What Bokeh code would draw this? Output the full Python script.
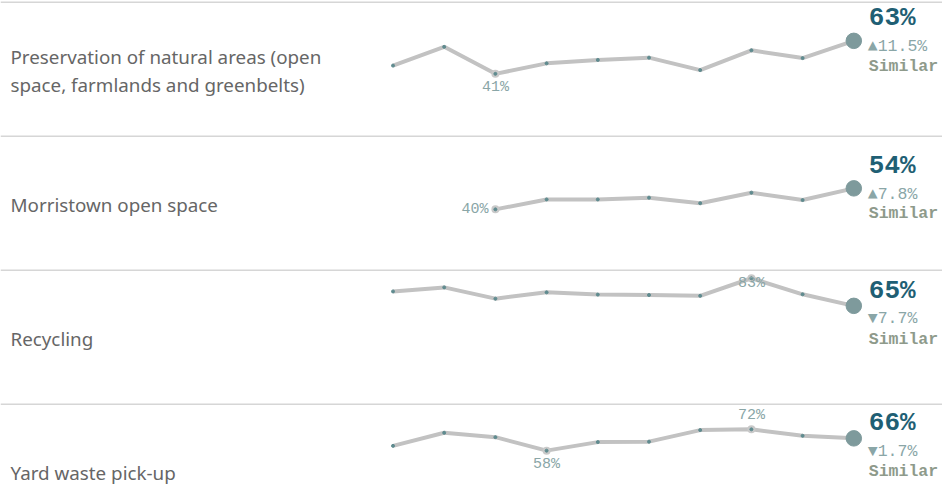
import math
from bokeh.plotting import figure
from bokeh.models import Range1d, Label, Span, ColumnDataSource
from bokeh.layouts import column
from bokeh.embed import file_html
from bokeh.resources import INLINE
from bokeh.core.properties import value

# ---------------- data ----------------
periods = list(range(10))
row_labels = [
    ["Preservation of natural areas (open", "space, farmlands and greenbelts)"],
    ["Morristown open space"],
    ["Recycling"],
    ["Yard waste pick-up"],
]
nan = float("nan")
preservation = [46.5, 59.0, 41.0, 48.0, 50.3, 51.8, 43.5, 56.7, 51.5, 63.0]
morristown = [nan, nan, 40.0, 46.6, 46.6, 47.8, 44.1, 51.1, 46.2, 54.0]
recycling = [74.6, 77.3, 69.8, 74.0, 72.5, 72.2, 71.7, 83.4, 72.7, 65.0]
yard_waste = [61.0, 69.7, 66.8, 57.8, 63.5, 63.8, 71.5, 72.0, 67.7, 66.0]
series = [preservation, morristown, recycling, yard_waste]
changes = [11.5, 7.8, -7.7, -1.7]
status = ["Similar", "Similar", "Similar", "Similar"]

# ---------------- style ----------------
W = 942
HEIGHTS = [134, 134, 134, 83]
PX = 1.5           # pixels per percentage point
Y_TOP = 89.9
X0_PX, X_STEP = 392.5, 51.2
LINE_C = "#c2c2c2"
DOT_C = "#5f8b8f"
LAST_C = "#7e9a9c"
VAL_C = "#1f5f74"
CHG_C = "#8aa6a7"
STAT_C = "#8e9a8b"
LBL_C = "#666666"
MONO = "Liberation Mono"

figs = []
for r, vals in enumerate(series):
    h = HEIGHTS[r]
    p = figure(width=W, height=h, output_backend="svg", toolbar_location=None,
               x_range=Range1d(-X0_PX / X_STEP, (W - X0_PX) / X_STEP),
               y_range=Range1d(Y_TOP - h / PX, Y_TOP),
               x_axis_location=None, y_axis_location=None,
               min_border=0, outline_line_color=None)
    p.grid.visible = False
    p.background_fill_color = "white"
    p.border_fill_color = "white"

    p.add_layout(Span(location=Y_TOP - 1.7 / PX, dimension="width",
                      line_color="#d6d6d6", line_width=1.5))

    # row label
    lines = row_labels[r]
    centre = 70.5
    for k, t in enumerate(lines):
        rel = centre + (k - (len(lines) - 1) / 2) * 28
        p.add_layout(Label(x=10, y=h - rel, x_units="screen", y_units="screen",
                           text=t, text_font="Noto Sans", text_font_size="18.8px",
                           text_color=LBL_C, text_baseline="middle", text_align="left"))

    valid = [(i, v) for i, v in zip(periods, vals) if not math.isnan(v)]
    src = ColumnDataSource(dict(x=[i for i, _ in valid], y=[v for _, v in valid]))
    p.line(periods, vals, line_color=LINE_C, line_width=4)

    last_i, last_v = valid[-1]
    vmin = min(v for _, v in valid)
    vmax = max(v for _, v in valid)
    first_i = valid[0][0]
    ext = []
    for i, v in valid:
        if i == last_i:
            continue
        if v == vmin:
            ext.append((i, v, "min"))
        if v == vmax:
            ext.append((i, v, "max"))
    for i, v, kind in ext:
        p.scatter([i], [v], size=8, fill_color="#c9c9c9", line_color=None)
    p.scatter("x", "y", source=src, size=3, color=DOT_C)
    for i, v, kind in ext:
        txt = f"{round(v):.0f}%"
        if i == first_i:
            p.text([i], [v], text=[txt], x_offset=-7, y_offset=0, text_align="right",
                   text_baseline="middle", text_font=value(MONO), text_font_size="15px",
                   text_color=CHG_C)
        else:
            rel = (Y_TOP - v) * PX
            if kind == "min":
                off = 14
            else:
                off = -13.5
                if rel + off < 10:
                    off = 15 - rel
            p.text([i], [v], text=[txt], y_offset=off, text_align="center",
                   text_baseline="middle", text_font=value(MONO), text_font_size="15px",
                   text_color=CHG_C)

    p.scatter([last_i], [last_v], size=15.5, color=LAST_C)

    up = changes[r] >= 0
    offs = (-22.7, 6.0, 25.3) if up else (-15.0, 13.0, 33.5)
    arrow = "\u25B2" if up else "\u25BC"
    p.text([last_i], [last_v], text=[f"{round(last_v):.0f}%"], x_offset=15, y_offset=offs[0],
           text_align="left", text_baseline="middle", text_font=value(MONO),
           text_font_size="26px", text_font_style="bold", text_color=VAL_C)
    p.text([last_i], [last_v], text=[f"{arrow}{abs(changes[r]):.1f}%"], x_offset=14,
           y_offset=offs[1], text_align="left", text_baseline="middle",
           text_font=value(MONO), text_font_size="16.5px", text_color=CHG_C)
    p.text([last_i], [last_v], text=[status[r]], x_offset=15, y_offset=offs[2],
           text_align="left", text_baseline="middle", text_font=value(MONO),
           text_font_size="16.5px", text_font_style="bold", text_color=STAT_C)
    figs.append(p)

layout = column(*figs, spacing=0)
open("out.html", "w").write(file_html(layout, INLINE))
